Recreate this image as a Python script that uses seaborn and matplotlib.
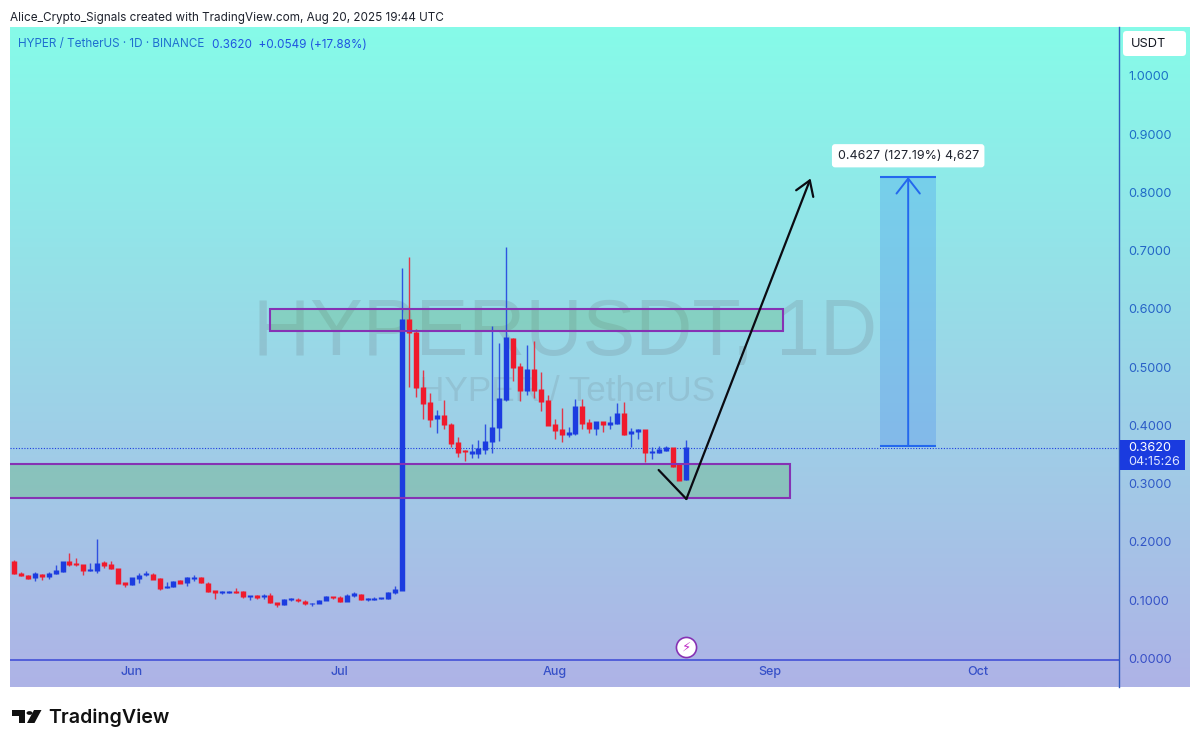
import numpy as np
import pandas as pd
import matplotlib
matplotlib.use("Agg")
import matplotlib.pyplot as plt
import matplotlib.dates as mdates
from matplotlib.colors import LinearSegmentedColormap
from matplotlib.patches import Rectangle, FancyBboxPatch, Circle, Polygon
import seaborn as sns

start_date = "2025-05-15"
opens = [.1670,.1464,.1429,.1389,.1447,.1407,.1464,.1504,.1664,.1635,.1613,.1510,.1515,.1647,.1607,.1544,.1298,.1269,.1372,.1441,.1447,.1367,.1229,.1235,.1332,.1304,.1378,.1389,.1292,.1161,.1138,.1144,.1149,.1144,.1069,.1075,.1063,.1081,.0955,.0938,.1018,.1018,.0983,.0943,.0955,.1006,.1063,.1052,.0989,.1086,.1103,.1018,.1023,.1035,.1035,.1138,
         .1178,.5824,.5595,.4657,.4394,.4119,.4165,.4022,.3707,.3570,.3524,.3524,.3593,.3724,.3970,.4457,.5492,.5006,.4600,.4966,.4622,.4417,.4022,
         .3923,.3849,.3866,.4323,.4049,.3952,.4066,.4026,.4037,.4198,.3866,.3906,.3929,.3534,.3540,.3580,.3614,.3351,.3071]
closes = [.1464,.1435,.1384,.1458,.1407,.1452,.1504,.1664,.1624,.1613,.1521,.1521,.1635,.1601,.1544,.1298,.1275,.1384,.1429,.1458,.1367,.1212,.1241,.1327,.1298,.1389,.1389,.1304,.1149,.1144,.1149,.1149,.1138,.1063,.1075,.1058,.1075,.0960,.0938,.1018,.1029,.0995,.0943,.0949,.1000,.1069,.1052,.0989,.1075,.1109,.1018,.1023,.1035,.1041,.1132,.1178,
          .5824,.5595,.4651,.4388,.4113,.4165,.4016,.3702,.3547,.3553,.3547,.3599,.3724,.3970,.4462,.5503,.5006,.4600,.4960,.4611,.4417,.4010,.3925,
          .3849,.3877,.4323,.4037,.3952,.4066,.4026,.4049,.4198,.3849,.3889,.3929,.3534,.3551,.3580,.3614,.3305,.3065,.3620]
highs = [.1693,.1492,.1429,.1487,.1447,.1481,.1613,.1664,.1818,.1733,.1613,.1635,.2053,.1670,.1681,.1544,.1298,.1384,.1464,.1504,.1475,.1384,.1309,.1332,.1344,.1395,.1435,.1395,.1309,.1161,.1161,.1155,.1206,.1166,.1075,.1092,.1115,.1126,.0955,.1023,.1035,.1041,.1006,.0949,.1006,.1081,.1063,.1081,.1103,.1138,.1103,.1041,.1052,.1041,.1144,.1241,
         .6699,.6899,.5652,.4954,.4554,.4268,.4439,.4050,.3799,.3581,.3685,.3753,.4022,.5709,.5412,.7059,.5503,.5069,.5383,.5458,.4914,.4531,.4119,
         .4306,.3980,.4449,.4449,.4106,.4066,.4066,.4169,.4381,.4403,.3963,.3940,.3929,.3637,.3648,.3654,.3614,.3351,.3751]
lows = [.1447,.1418,.1361,.1332,.1344,.1372,.1452,.1492,.1595,.1595,.1435,.1504,.1475,.1561,.1538,.1292,.1229,.1258,.1304,.1424,.1361,.1184,.1218,.1229,.1292,.1252,.1332,.1298,.1144,.1023,.1115,.1132,.1121,.1035,.1006,.1029,.1029,.0949,.0880,.0926,.0989,.0978,.0926,.0903,.0949,.1000,.1023,.0978,.0983,.1063,.1006,.0995,.1006,.1029,.1023,.1115,
        .1172,.4668,.4485,.4108,.3982,.3867,.3936,.3627,.3456,.3398,.3438,.3450,.3513,.3536,.3742,.4428,.4760,.4417,.4520,.4474,.4256,.4005,.3770,
        .3717,.3797,.3831,.3946,.3877,.3837,.3894,.3940,.4026,.3837,.3626,.3774,.3380,.3425,.3534,.3568,.3282,.3065,.3071]

y_ticks = [0.0, 0.1, 0.2, 0.3, 0.4, 0.5, 0.6, 0.7, 0.8, 0.9, 1.0]
last_price = 0.3620
resistance_zone = ("2025-06-21", "2025-09-03", 0.5622, 0.6000)
support_zone = ("2025-05-01", "2025-09-04", 0.2755, 0.3339)
target_price = 0.8266
entry_price = 0.3648
position_dates = ("2025-09-17", "2025-09-25")
path_dates = ("2025-08-16", "2025-08-20", "2025-09-06 22:00")
path_prices = (0.3236, 0.2738, 0.8240)

TV_BLUE = "#1C3CE0"
TV_RED = "#F01A2C"
PURPLE = "#8632B4"
BODY_PAD = 0.0012

sns.set_theme(style="white")
plt.rcParams["font.family"] = ["Inter", "DejaVu Sans"]

W, H = 1200, 747
fig = plt.figure(figsize=(W / 100, H / 100), dpi=100, facecolor="white")


def box(x0, y0, x1, y1):
    return [x0 / W, 1 - y1 / H, (x1 - x0) / W, (y1 - y0) / H]


def fx(x):
    return x / W


def fy(y):
    return 1 - y / H


# gradient background, also behind the price scale
bg = fig.add_axes(box(10, 27, 1190, 687))
cmap = LinearSegmentedColormap.from_list("tv", ["#86FBE9", "#AEB3E6"])
bg.imshow(np.linspace(0, 1, 256).reshape(-1, 1), aspect="auto", cmap=cmap)
bg.axis("off")

ax = fig.add_axes(box(10, 27, 1119, 687))
ax.patch.set_alpha(0)

dates = pd.date_range(start_date, periods=len(opens), freq="D")
df = pd.DataFrame({"date": dates, "open": opens, "high": highs, "low": lows, "close": closes})
df["dir"] = np.where(df["close"] >= df["open"], "up", "down")
palette = {"up": TV_BLUE, "down": TV_RED}

wicks = df.melt(id_vars=["date", "dir"], value_vars=["high", "low"], value_name="price")
# bodies get a hair of padding so the thinnest candles stay visible, as in the reference
bodies = pd.DataFrame({"date": df["date"], "dir": df["dir"],
                       "top": df[["open", "close"]].max(axis=1) + BODY_PAD,
                       "bottom": df[["open", "close"]].min(axis=1) - BODY_PAD})
bodies = bodies.melt(id_vars=["date", "dir"], value_vars=["top", "bottom"], value_name="price")

# watermark sits under the candles
ax.text(pd.Timestamp("2025-08-02 12:00"), 0.5565, "HYPERUSDT, 1D", ha="center", va="center",
        fontsize=57, color="#6E7F88", alpha=0.23, family=["Liberation Sans"], zorder=0.5)
ax.text(pd.Timestamp("2025-08-02 18:00"), 0.458, "HYPER / TetherUS", ha="center", va="center",
        fontsize=25.3, color="#6E7F88", alpha=0.20, family=["Liberation Sans"], zorder=0.5)

sns.lineplot(data=wicks, x="date", y="price", hue="dir", units="date", estimator=None,
             palette=palette, lw=1.0, alpha=0.85, legend=False, ax=ax, zorder=3, solid_capstyle="butt")
sns.lineplot(data=bodies, x="date", y="price", hue="dir", units="date", estimator=None,
             palette=palette, lw=3.9, legend=False, ax=ax, zorder=4, solid_capstyle="butt")


def ts(s):
    return mdates.date2num(pd.Timestamp(s))


for d0, d1, p0, p1, a in (resistance_zone + (0.24,), support_zone + (0.28,)):
    ax.add_patch(Rectangle((ts(d0), p0), ts(d1) - ts(d0), p1 - p0, facecolor=(0.30, 0.69, 0.31, a),
                           edgecolor="none", zorder=2))
    ax.add_patch(Rectangle((ts(d0), p0), ts(d1) - ts(d0), p1 - p0, facecolor="none",
                           edgecolor=PURPLE, lw=1.5, zorder=5))

ax.axhline(last_price, color=TV_BLUE, lw=0.8, ls=(0, (1, 1.5)), zorder=2)
ax.axhline(-0.0026, color="#3A48D6", lw=1.1, zorder=2)

# long position tool
ax.add_patch(Rectangle((ts(position_dates[0]), entry_price), ts(position_dates[1]) - ts(position_dates[0]),
                       target_price - entry_price, facecolor=(0.13, 0.45, 0.95, 0.22), edgecolor="none", zorder=2))
ax.hlines([target_price, entry_price], ts(position_dates[0]), ts(position_dates[1]), color="#2468EE", lw=1.5, zorder=5)
mid = ts("2025-09-21")
ax.annotate("", xy=(mid, target_price), xytext=(mid, entry_price),
            arrowprops=dict(arrowstyle="->,head_length=0.9,head_width=0.7", color="#2468EE", lw=1.4,
                            shrinkA=0, shrinkB=0), zorder=5)
ax.text(mid, 0.8630, "0.4627 (127.19%) 4,627", ha="center", va="center", fontsize=9.0, color="#1E222D", zorder=7,
        bbox=dict(boxstyle="round,pad=0.45,rounding_size=0.25", fc="white", ec="none"))

# hand-drawn path
ax.plot([ts(path_dates[0]), ts(path_dates[1])], path_prices[:2], color="#0B0B12", lw=1.6, zorder=6,
        solid_capstyle="round")
ax.annotate("", xy=(ts(path_dates[2]), path_prices[2]), xytext=(ts(path_dates[1]), path_prices[1]),
            arrowprops=dict(arrowstyle="->,head_length=0.85,head_width=0.55", color="#0B0B12", lw=1.6,
                            shrinkA=0, shrinkB=0), zorder=6)

# lightning marker
ax.plot([ts("2025-08-20")], [0.0197], marker="o", ms=14.5, mfc="white", mec=PURPLE, mew=1.2, zorder=6, clip_on=False)
ax.text(ts("2025-08-20"), 0.0190, "\u26a1", ha="center", va="center", fontsize=9.5, color="#C02CC8",
        family=["DejaVu Sans"], zorder=7)

ax.set_xlim(pd.Timestamp("2025-05-14 10:00"), pd.Timestamp("2025-10-21 10:00"))
ax.set_ylim(-0.0489, 1.084)
ax.xaxis.set_major_locator(mdates.MonthLocator())
ax.xaxis.set_major_formatter(mdates.DateFormatter("%b"))
ax.yaxis.tick_right()
ax.set_yticks(y_ticks)
ax.set_yticklabels([f"{v:.4f}" for v in y_ticks])
ax.tick_params(axis="y", length=0, pad=6.5, labelsize=9.1)
ax.tick_params(axis="x", length=0, pad=-15, labelsize=9, labelcolor="#3650C8")
for lab, v in zip(ax.get_yticklabels(), y_ticks):
    lab.set_color((0.22 - 0.12 * v, 0.31 + 0.13 * v, 0.78))
for lab in ax.get_xticklabels():
    lab.set_fontweight("medium")
ax.set_xlabel("")
ax.set_ylabel("")
for s in ("top", "left", "bottom"):
    ax.spines[s].set_visible(False)
ax.spines["right"].set_color("#2F5BC0")
ax.spines["right"].set_linewidth(1.0)

# price tag and currency button
fig.patches.append(Rectangle((fx(1120), fy(470)), fx(65), 30 / H, transform=fig.transFigure,
                             facecolor="#1A3BDF", edgecolor="none", zorder=5))
fig.text(fx(1128), fy(448), "0.3620", color="white", fontsize=9.1, va="center", ha="left", zorder=6)
fig.text(fx(1128), fy(462), "04:15:26", color="#DCE4FF", fontsize=9.1, va="center", ha="left", zorder=6)
fig.patches.append(FancyBboxPatch((fx(1123), fy(56)), 63 / W, 25 / H, transform=fig.transFigure,
                                  boxstyle="round,pad=0,rounding_size=0.003", mutation_aspect=1.6,
                                  facecolor="white", edgecolor="none", zorder=5))
fig.text(fx(1148), fy(44), "USDT", color="#131722", fontsize=9.2, va="center", ha="center", zorder=6)

# headers
fig.text(fx(10), fy(17.5), "Alice_Crypto_Signals created with TradingView.com, Aug 20, 2025 19:44 UTC",
         fontsize=8.45, color="#1E222D", va="center", ha="left")
fig.text(fx(18), fy(44.5), "HYPER / TetherUS \u00b7 1D \u00b7 BINANCE", fontsize=8.45, color="#1F6FD0", va="center", ha="left")
fig.text(fx(212), fy(44.5), "0.3620  +0.0549 (+17.88%)", fontsize=8.45, color="#1F55E0", va="center", ha="left")

# TradingView logo
logo = [Polygon([(fx(12), fy(710)), (fx(25), fy(710)), (fx(25), fy(723)), (fx(18.5), fy(723)),
                 (fx(18.5), fy(716)), (fx(12), fy(716))], closed=True, transform=fig.transFigure, fc="#111", ec="none"),
        Polygon([(fx(34), fy(710)), (fx(41.5), fy(710)), (fx(34.5), fy(723)), (fx(27), fy(723))], closed=True,
                transform=fig.transFigure, fc="#111", ec="none")]
fig.patches.extend(logo)
fig.add_artist(Circle((fx(29.5), fy(713)), 3 / W, transform=fig.transFigure, fc="#111", ec="none"))
fig.text(fx(48), fy(717.5), "TradingView", fontsize=14.1, fontweight="semibold", color="#111", va="center", ha="left")

fig.savefig("out.png", dpi=100)
